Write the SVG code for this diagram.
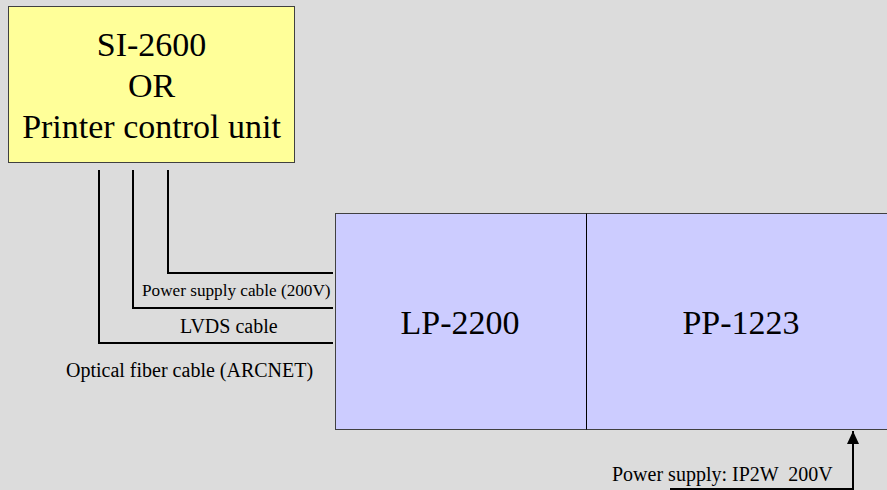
<svg xmlns="http://www.w3.org/2000/svg" width="887" height="490" viewBox="0 0 887 490">
<style>
.t{font-family:'Liberation Serif',Tinos,'Times New Roman',Times,'Noto Serif','DejaVu Serif',serif;fill:#000}
.big{font-size:34px;text-anchor:middle}
.lbl{font-size:20px}
.con{fill:none;stroke:#000;stroke-width:2}
</style>
<defs>
<marker id="ah" markerWidth="13" markerHeight="12" refX="13" refY="6" orient="auto" markerUnits="userSpaceOnUse" viewBox="0 0 13 12">
<path d="M0,0 L13,6 L0,12 Z" fill="#000"/>
</marker>
</defs>
<rect width="887" height="490" fill="#dcdcdc"/>
<g id="ctrl">
<rect x="8.5" y="6.5" width="286" height="156" fill="#ffff99" stroke="#404040" stroke-width="1"/>
<text class="t big" x="151.5" y="56">SI-2600</text>
<text class="t big" x="151.5" y="97">OR</text>
<text class="t big" x="151.5" y="138">Printer control unit</text>
</g>
<g id="lp2200">
<rect x="335.5" y="213.5" width="251" height="216" fill="#ccccff" stroke="#404040" stroke-width="1"/>
<text class="t big" x="460" y="334">LP-2200</text>
</g>
<g id="pp1223">
<rect x="586.5" y="213.5" width="310" height="216" fill="#ccccff" stroke="#404040" stroke-width="1"/>
<line x1="586.5" y1="213.5" x2="586.5" y2="429.5" stroke="#000" stroke-width="1"/>
<text class="t big" x="741" y="334">PP-1223</text>
</g>
<g id="connectors">
<polyline class="con" points="168,170 168,273 333,273"/>
<polyline class="con" points="133,170 133,308 333,308"/>
<polyline class="con" points="99,170 99,343 333,343"/>
<polyline class="con" points="670,489 853,489 853,431" marker-end="url(#ah)"/>
<text class="t" x="142" y="296" style="font-size:17.2px">Power supply cable (200V)</text>
<text class="t lbl" x="180" y="333">LVDS cable</text>
<text class="t lbl" x="66" y="377">Optical fiber cable (ARCNET)</text>
<text class="t lbl" x="612" y="481" xml:space="preserve">Power supply: IP2W  200V</text>
</g>
</svg>
